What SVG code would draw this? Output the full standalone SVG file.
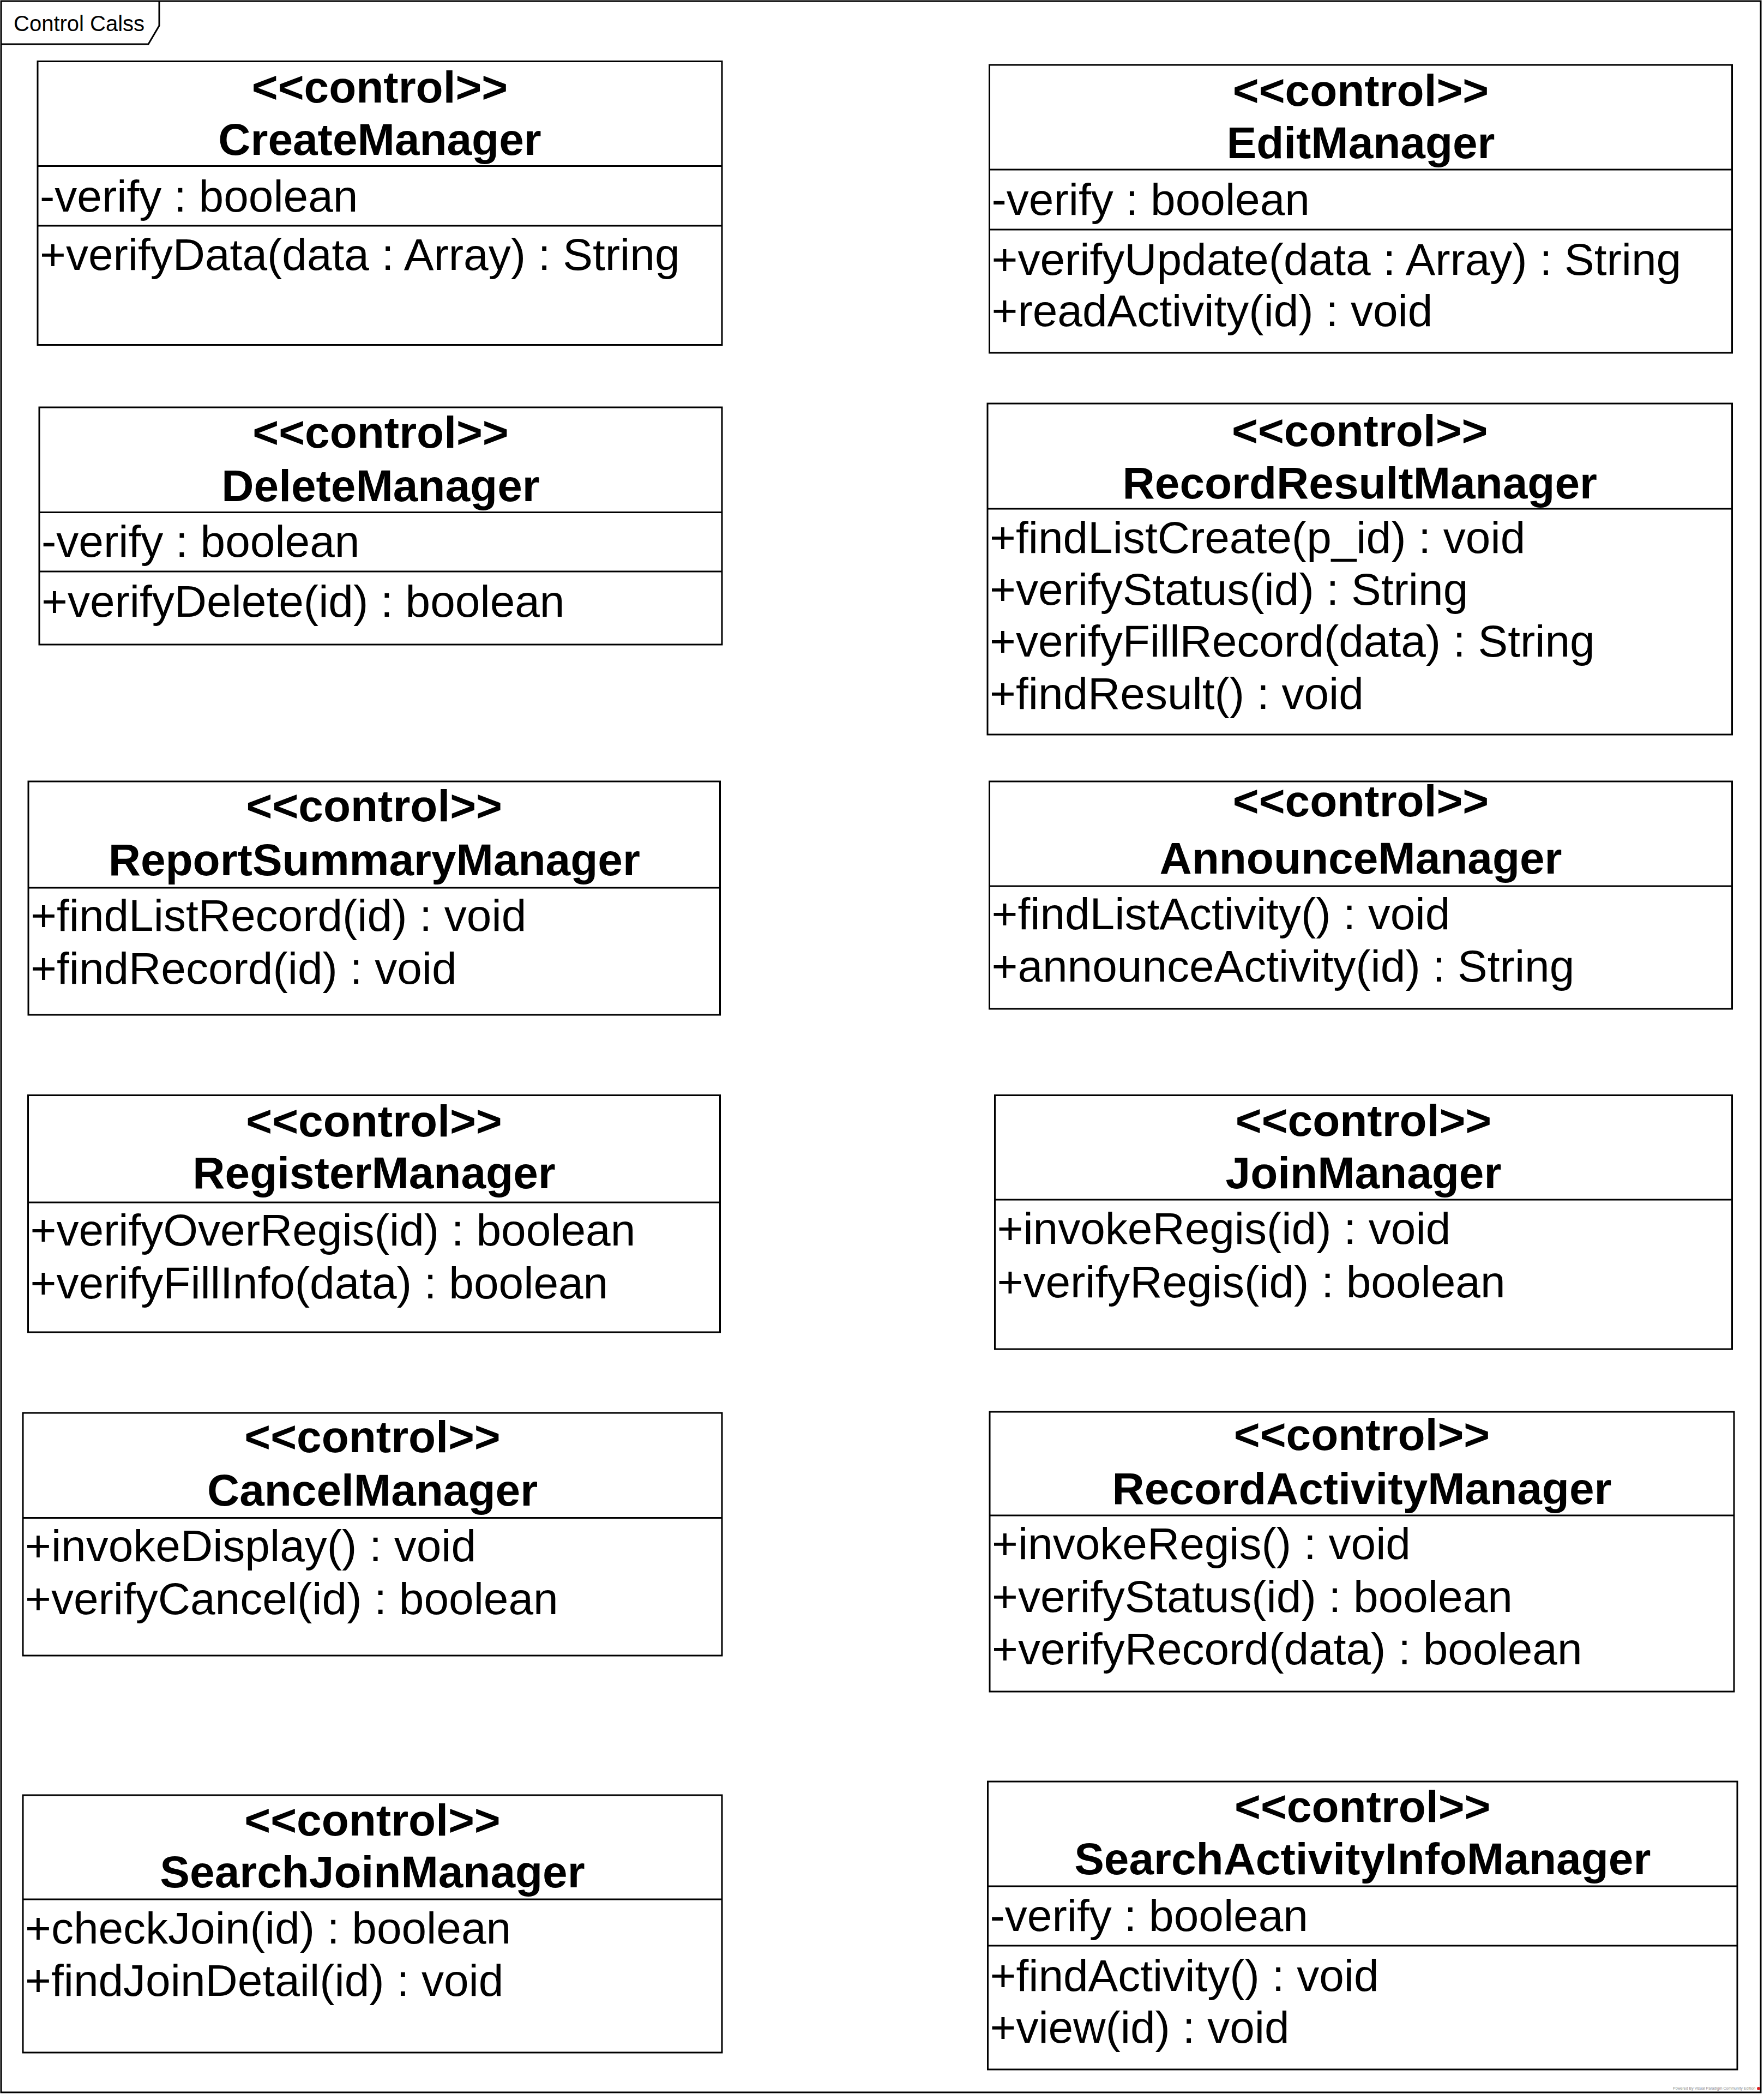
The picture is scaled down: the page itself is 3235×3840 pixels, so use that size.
<svg xmlns="http://www.w3.org/2000/svg" width="3235" height="3840" viewBox="0 0 3235 3840">
<style>
.frame{fill:none;stroke:#000;stroke-width:3}
.box{fill:#fff;stroke:#000;stroke-width:3}
.sep{stroke:#000;stroke-width:3}
.t{font-family:"Liberation Sans",Arial,Helvetica,sans-serif;font-size:82px;fill:#000}
.h{font-weight:bold;text-anchor:middle}
.lbl{font-family:"Liberation Sans",Arial,Helvetica,sans-serif;font-size:40px;fill:#000}
.wm{font-family:"Liberation Sans",Arial,Helvetica,sans-serif;font-size:7px;fill:#888}
</style>
<rect x="0" y="0" width="3235" height="3840" fill="#fff"/>
<g id="frame">
<rect class="frame" x="2" y="2" width="3227" height="3835"/>
<path class="frame" d="M2,81 H272 L292,47 V2"/>
<text class="lbl" x="25" y="57">Control Calss</text>
</g>
<g id="CreateManager">
<rect class="box" x="69" y="112.5" width="1255" height="520"/>
<line class="sep" x1="69" y1="304.5" x2="1324" y2="304.5"/>
<line class="sep" x1="69" y1="414" x2="1324" y2="414"/>
<text class="t h" x="696.5" y="188">&lt;&lt;control&gt;&gt;</text>
<text class="t h" x="696.5" y="284">CreateManager</text>
<text class="t" x="73" y="388">-verify : boolean</text>
<text class="t" x="73" y="495">+verifyData(data : Array) : String</text>
</g>
<g id="EditManager">
<rect class="box" x="1814.5" y="119" width="1362" height="528"/>
<line class="sep" x1="1814.5" y1="311" x2="3176.5" y2="311"/>
<line class="sep" x1="1814.5" y1="421" x2="3176.5" y2="421"/>
<text class="t h" x="2495.5" y="194">&lt;&lt;control&gt;&gt;</text>
<text class="t h" x="2495.5" y="290">EditManager</text>
<text class="t" x="1818.5" y="394">-verify : boolean</text>
<text class="t" x="1818.5" y="503.5">+verifyUpdate(data : Array) : String</text>
<text class="t" x="1818.5" y="598">+readActivity(id) : void</text>
</g>
<g id="DeleteManager">
<rect class="box" x="72" y="747" width="1252" height="435"/>
<line class="sep" x1="72" y1="939.5" x2="1324" y2="939.5"/>
<line class="sep" x1="72" y1="1048" x2="1324" y2="1048"/>
<text class="t h" x="698" y="820.5">&lt;&lt;control&gt;&gt;</text>
<text class="t h" x="698" y="918.5">DeleteManager</text>
<text class="t" x="76" y="1021">-verify : boolean</text>
<text class="t" x="76" y="1131">+verifyDelete(id) : boolean</text>
</g>
<g id="RecordResultManager">
<rect class="box" x="1811" y="740" width="1365.5" height="607"/>
<line class="sep" x1="1811" y1="933" x2="3176.5" y2="933"/>
<text class="t h" x="2493.75" y="818">&lt;&lt;control&gt;&gt;</text>
<text class="t h" x="2493.75" y="914">RecordResultManager</text>
<text class="t" x="1815" y="1014">+findListCreate(p_id) : void</text>
<text class="t" x="1815" y="1109">+verifyStatus(id) : String</text>
<text class="t" x="1815" y="1204">+verifyFillRecord(data) : String</text>
<text class="t" x="1815" y="1300">+findResult() : void</text>
</g>
<g id="ReportSummaryManager">
<rect class="box" x="52" y="1433" width="1268.5" height="428"/>
<line class="sep" x1="52" y1="1628" x2="1320.5" y2="1628"/>
<text class="t h" x="686.25" y="1506">&lt;&lt;control&gt;&gt;</text>
<text class="t h" x="686.25" y="1604.5">ReportSummaryManager</text>
<text class="t" x="56" y="1707">+findListRecord(id) : void</text>
<text class="t" x="56" y="1804">+findRecord(id) : void</text>
</g>
<g id="AnnounceManager">
<rect class="box" x="1814.5" y="1433" width="1362" height="417"/>
<line class="sep" x1="1814.5" y1="1625" x2="3176.5" y2="1625"/>
<text class="t h" x="2495.5" y="1497">&lt;&lt;control&gt;&gt;</text>
<text class="t h" x="2495.5" y="1602">AnnounceManager</text>
<text class="t" x="1818.5" y="1704">+findListActivity() : void</text>
<text class="t" x="1818.5" y="1800">+announceActivity(id) : String</text>
</g>
<g id="RegisterManager">
<rect class="box" x="51.5" y="2008.5" width="1269" height="434.5"/>
<line class="sep" x1="51.5" y1="2205" x2="1320.5" y2="2205"/>
<text class="t h" x="686" y="2084">&lt;&lt;control&gt;&gt;</text>
<text class="t h" x="686" y="2179">RegisterManager</text>
<text class="t" x="55.5" y="2284">+verifyOverRegis(id) : boolean</text>
<text class="t" x="55.5" y="2381">+verifyFillInfo(data) : boolean</text>
</g>
<g id="JoinManager">
<rect class="box" x="1824.5" y="2008.5" width="1352" height="465.5"/>
<line class="sep" x1="1824.5" y1="2200" x2="3176.5" y2="2200"/>
<text class="t h" x="2500.5" y="2083">&lt;&lt;control&gt;&gt;</text>
<text class="t h" x="2500.5" y="2179">JoinManager</text>
<text class="t" x="1828.5" y="2281">+invokeRegis(id) : void</text>
<text class="t" x="1828.5" y="2379">+verifyRegis(id) : boolean</text>
</g>
<g id="CancelManager">
<rect class="box" x="42" y="2591" width="1282" height="445"/>
<line class="sep" x1="42" y1="2783.5" x2="1324" y2="2783.5"/>
<text class="t h" x="683" y="2663">&lt;&lt;control&gt;&gt;</text>
<text class="t h" x="683" y="2761">CancelManager</text>
<text class="t" x="46" y="2863">+invokeDisplay() : void</text>
<text class="t" x="46" y="2960">+verifyCancel(id) : boolean</text>
</g>
<g id="RecordActivityManager">
<rect class="box" x="1815" y="2589" width="1365" height="513"/>
<line class="sep" x1="1815" y1="2779" x2="3180" y2="2779"/>
<text class="t h" x="2497.5" y="2659">&lt;&lt;control&gt;&gt;</text>
<text class="t h" x="2497.5" y="2757.5">RecordActivityManager</text>
<text class="t" x="1819" y="2859">+invokeRegis() : void</text>
<text class="t" x="1819" y="2956">+verifyStatus(id) : boolean</text>
<text class="t" x="1819" y="3052">+verifyRecord(data) : boolean</text>
</g>
<g id="SearchJoinManager">
<rect class="box" x="42" y="3292" width="1282" height="472"/>
<line class="sep" x1="42" y1="3483" x2="1324" y2="3483"/>
<text class="t h" x="683" y="3366">&lt;&lt;control&gt;&gt;</text>
<text class="t h" x="683" y="3461">SearchJoinManager</text>
<text class="t" x="46" y="3563.5">+checkJoin(id) : boolean</text>
<text class="t" x="46" y="3660">+findJoinDetail(id) : void</text>
</g>
<g id="SearchActivityInfoManager">
<rect class="box" x="1811.5" y="3267" width="1374.5" height="528"/>
<line class="sep" x1="1811.5" y1="3459" x2="3186" y2="3459"/>
<line class="sep" x1="1811.5" y1="3568" x2="3186" y2="3568"/>
<text class="t h" x="2498.75" y="3341">&lt;&lt;control&gt;&gt;</text>
<text class="t h" x="2498.75" y="3436.5">SearchActivityInfoManager</text>
<text class="t" x="1815.5" y="3541">-verify : boolean</text>
<text class="t" x="1815.5" y="3651">+findActivity() : void</text>
<text class="t" x="1815.5" y="3746">+view(id) : void</text>
</g>
<g id="connectors"></g>
<g id="watermark">
<text class="wm" x="3068" y="3832">Powered By Visual Paradigm Community Edition</text>
<circle cx="3225" cy="3830" r="3" fill="#d22"/>
</g>
</svg>
